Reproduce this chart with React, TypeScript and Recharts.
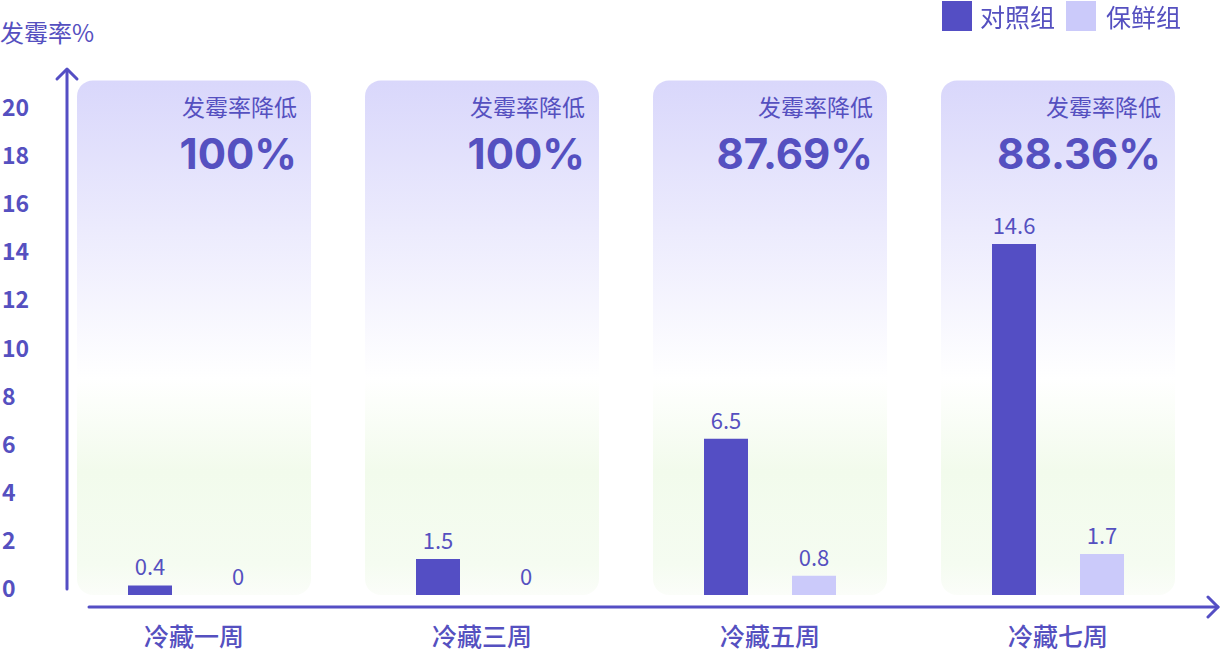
import { BarChart, Bar, XAxis, YAxis, ReferenceArea, LabelList } from "recharts";

const categories = ["冷藏一周", "冷藏三周", "冷藏五周", "冷藏七周"];
const controlValues = [0.4, 1.5, 6.5, 14.6];
const freshValues = [0, 0, 0.8, 1.7];
const reductionLabels = ["100%", "100%", "87.69%", "88.36%"];
const yTicks = [0, 2, 4, 6, 8, 10, 12, 14, 16, 18, 20];
const seriesNames = ["对照组", "保鲜组"];

const DARK = "#544ec4";
const LIGHT = "#cbcafa";
const TEXT = "#5550c0";
const FONT = '"Noto Sans CJK SC", "Noto Sans", sans-serif';

const data = categories.map((name, i) => ({
  name,
  control: controlValues[i],
  fresh: freshValues[i],
}));

function panelShape(i: number) {
  return (props: any) => {
    const inset = 27;
    const x = props.x + inset;
    const w = props.width - inset * 2;
    const right = x + w - 14;
    return (
      <g>
        <rect x={x} y={props.y} width={w} height={props.height} rx={16} fill="url(#panelGrad)" />
        <text x={right} y={props.y + 26} textAnchor="end" dominantBaseline="central" fontSize={23} fill={TEXT} fontFamily={FONT}>
          发霉率降低
        </text>
        <text x={right} y={props.y + 73} textAnchor="end" dominantBaseline="central" fontSize={42} fontWeight={700} fill={TEXT} fontFamily="Inter, sans-serif">
          {reductionLabels[i]}
        </text>
      </g>
    );
  };
}

function XTick(props: any) {
  return (
    <text x={props.x} y={props.y + 40} textAnchor="middle" dominantBaseline="central" fontSize={25} fontWeight={500} fill={TEXT} fontFamily={FONT}>
      {props.payload.value}
    </text>
  );
}

function YTick(props: any) {
  return (
    <text x={2} y={props.y - 8} textAnchor="start" dominantBaseline="central" fontSize={23} fontWeight={700} fill={TEXT} fontFamily={FONT}>
      {props.payload.value}
    </text>
  );
}

function BarValue(props: any) {
  const { x, y, width, value } = props;
  if (value == null) return null;
  return (
    <text x={Number(x) + Number(width) / 2} y={Number(y) - 20} textAnchor="middle" dominantBaseline="central" fontSize={22} fill={TEXT} fontFamily={FONT}>
      {value}
    </text>
  );
}

export default function App() {
  return (
    <div style={{ position: "fixed", left: 0, top: 0, width: 1220, height: 655, background: "#fff", fontFamily: FONT }}>
      <svg width={0} height={0} style={{ position: "absolute" }}>
        <defs>
          <linearGradient id="panelGrad" x1="0" y1="0" x2="0" y2="1">
            <stop offset="0" stopColor="#d9d7fb" />
            <stop offset="0.58" stopColor="#ffffff" />
            <stop offset="0.76" stopColor="#f2fbec" />
            <stop offset="0.94" stopColor="#f5fcf1" />
            <stop offset="1" stopColor="#fbfdf9" />
          </linearGradient>
        </defs>
      </svg>
      <BarChart
        width={1220}
        height={655}
        data={data}
        margin={{ top: 66, right: 18, left: 0, bottom: 0 }}
        barSize={44}
        barGap={44}
      >
        <XAxis dataKey="name" axisLine={false} tickLine={false} tickSize={0} tickMargin={0} height={60} tick={<XTick />} interval={0} />
        <YAxis domain={[0, 22]} ticks={yTicks} axisLine={false} tickLine={false} width={50} tick={<YTick />} interval={0} />
        {categories.map((c, i) => (
          <ReferenceArea key={c} x1={c} x2={c} y1={0} y2={21.4} shape={panelShape(i)} />
        ))}
        <Bar dataKey="control" name={seriesNames[0]} fill={DARK} minPointSize={0.01} isAnimationActive={false}>
          <LabelList dataKey="control" content={<BarValue />} />
        </Bar>
        <Bar dataKey="fresh" name={seriesNames[1]} fill={LIGHT} minPointSize={0.01} isAnimationActive={false}>
          <LabelList dataKey="fresh" content={<BarValue />} />
        </Bar>
      </BarChart>
      <svg width={1220} height={655} style={{ position: "absolute", left: 0, top: 0, pointerEvents: "none" }}>
        <g stroke={DARK} strokeWidth={3} fill="none" strokeLinecap="round" strokeLinejoin="round">
          <line x1={67} y1={589} x2={67} y2={70} />
          <polyline points="57,79 67,69 77,79" />
          <line x1={89} y1={607} x2={1218} y2={607} />
          <polyline points="1208,597 1218,607 1208,617" />
        </g>
      </svg>
      <div style={{ position: "absolute", left: 0, top: 16, fontSize: 24, color: TEXT, lineHeight: "32px" }}>发霉率%</div>
      <div style={{ position: "absolute", left: 942, top: 1, display: "flex", alignItems: "center", fontSize: 25, color: TEXT, lineHeight: "30px" }}>
        <span style={{ width: 30, height: 30, background: DARK, display: "inline-block", marginRight: 8 }} />
        <span>{seriesNames[0]}</span>
        <span style={{ width: 30, height: 30, background: LIGHT, display: "inline-block", marginLeft: 11, marginRight: 10 }} />
        <span>{seriesNames[1]}</span>
      </div>
    </div>
  );
}
